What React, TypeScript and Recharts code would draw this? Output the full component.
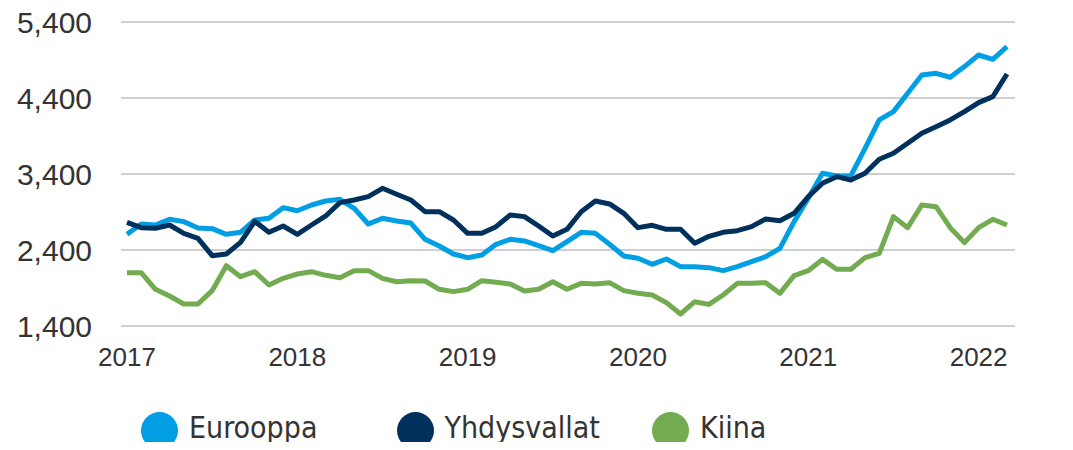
import React from "react";
import { LineChart, Line, XAxis, YAxis, CartesianGrid } from "recharts";

const years = [2017, 2018, 2019, 2020, 2021, 2022];
const monthsInLastYear = 3;

const eurooppa = [
  2606, 2742, 2729, 2804, 2773, 2690, 2681, 2606, 2633, 2795, 2817, 2957,
  2917, 2992, 3045, 3067, 2949, 2742, 2817, 2782, 2755, 2541, 2453, 2347,
  2299, 2334, 2475, 2541, 2519, 2457, 2391, 2510, 2633, 2619, 2475, 2321,
  2291, 2212, 2282, 2181, 2181, 2168, 2128, 2181, 2247, 2312, 2422, 2773,
  3080, 3409, 3374, 3378, 3738, 4111, 4221, 4462, 4703, 4725, 4673, 4813,
  4966, 4909, 5076,
];

const yhdysvallat = [
  2764, 2694, 2686, 2729, 2619, 2554, 2325, 2347, 2501, 2777, 2633, 2716,
  2606, 2729, 2848, 3023, 3058, 3102, 3212, 3133, 3058, 2904, 2904, 2795,
  2619, 2619, 2707, 2861, 2839, 2716, 2584, 2672, 2904, 3045, 3006, 2883,
  2694, 2725, 2672, 2672, 2488, 2580, 2633, 2654, 2707, 2808, 2786, 2883,
  3102, 3278, 3365, 3321, 3409, 3594, 3673, 3804, 3936, 4023, 4111, 4221,
  4339, 4418, 4716,
];

const kiina = [
  2101, 2101, 1883, 1795, 1690, 1690, 1865, 2194, 2049, 2115, 1940, 2027,
  2084, 2115, 2067, 2036, 2128, 2128, 2027, 1983, 1996, 1992, 1883, 1852,
  1883, 1996, 1975, 1953, 1861, 1883, 1983, 1883, 1961, 1953, 1970, 1865,
  1830, 1808, 1707, 1558, 1720, 1685, 1808, 1961, 1961, 1970, 1830, 2062,
  2128, 2277, 2146, 2146, 2299, 2356, 2839, 2694, 2992, 2970, 2694, 2497,
  2694, 2804, 2729,
];

const yTicks = [1400, 2400, 3400, 4400, 5400];

const series = [
  { key: "eurooppa", name: "Eurooppa", color: "#009FE3" },
  { key: "yhdysvallat", name: "Yhdysvallat", color: "#00305C" },
  { key: "kiina", name: "Kiina", color: "#72AB50" },
];

const months: string[] = [];
years.forEach((y, i) => {
  const n = i === years.length - 1 ? monthsInLastYear : 12;
  for (let m = 1; m <= n; m++) months.push(`${y}-${String(m).padStart(2, "0")}`);
});

const data = months.map((month, i) => ({
  month,
  eurooppa: eurooppa[i],
  yhdysvallat: yhdysvallat[i],
  kiina: kiina[i],
}));

const axisFont = "'Liberation Sans', Arial, sans-serif";
const legendFont = "'Liberation Sans Narrow', 'DejaVu Sans Condensed', sans-serif";

const Legendi = () => (
  <div
    style={{
      position: "absolute",
      left: 141,
      top: 412,
      display: "flex",
    }}
  >
    {series.map((s) => (
      <div key={s.key} style={{ width: 255.5, display: "flex", alignItems: "center" }}>
        <span
          style={{
            width: 37,
            height: 37,
            borderRadius: "50%",
            background: s.color,
            display: "inline-block",
            marginRight: 11,
          }}
        />
        <span
          style={{
            fontFamily: legendFont,
            fontSize: 30,
            color: "#333",
            lineHeight: "37px",
            position: "relative",
            top: -3,
          }}
        >
          {s.name}
        </span>
      </div>
    ))}
  </div>
);

export default function App() {
  return (
    <div style={{ position: "relative", width: 1073, height: 450, margin: -8, background: "#fff" }}>
      <LineChart width={1073} height={450} data={data} margin={{ top: 22, right: 58, left: 0, bottom: 0 }}>
        <CartesianGrid vertical={false} stroke="#BFBFBF" strokeWidth={1.5} />
        <XAxis
          dataKey="month"
          axisLine={false}
          tickLine={false}
          tickSize={0}
          tickMargin={22}
          height={124}
          interval={11}
          padding={{ left: 6, right: 8 }}
          tickFormatter={(v: string) => v.slice(0, 4)}
          tick={{ fontFamily: axisFont, fontSize: 26, fill: "#333" }}
        />
        <YAxis
          domain={[1400, 5400]}
          ticks={yTicks}
          axisLine={false}
          tickLine={false}
          tickSize={0}
          tickMargin={29}
          width={121}
          tickFormatter={(v: number) => v.toLocaleString("en-US")}
          tick={{ fontFamily: axisFont, fontSize: 30, fill: "#333" }}
        />
        {series.map((s) => (
          <Line
            key={s.key}
            type="linear"
            dataKey={s.key}
            name={s.name}
            stroke={s.color}
            strokeWidth={5}
            strokeLinejoin="round"
            dot={false}
            activeDot={false}
            isAnimationActive={false}
          />
        ))}
      </LineChart>
      <Legendi />
    </div>
  );
}
